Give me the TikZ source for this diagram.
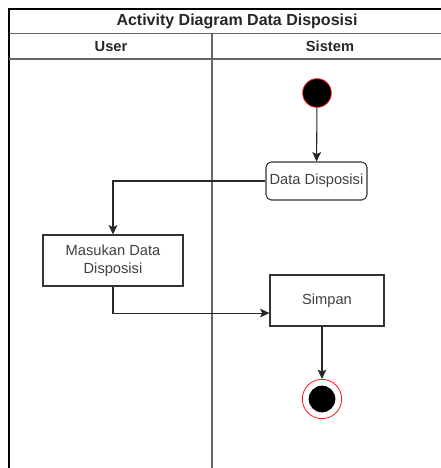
\documentclass[tikz,border=0pt]{standalone}
\usepackage{fontspec}
\setmainfont{Liberation Sans}
\usetikzlibrary{arrows.meta}

\tikzset{
  lane/.style={line width=1pt, draw=black!60},
  lanetext/.style={font=\fontsize{11}{13}\selectfont\bfseries, text=black!85},
  act/.style={draw=black!80, line width=0.8pt, fill=white, align=center, font=\fontsize{11}{13.5}\selectfont, text=black!75, inner sep=1pt},
  flow/.style={line width=0.8pt, draw=black!85, -{Stealth[length=7pt,width=6.5pt,inset=1.5pt]}},
  startdot/.style={circle, fill=black, draw=red!90, line width=0.6pt, minimum size=21.5pt, inner sep=0pt},
  enddot/.style={circle, draw=red!90, line width=0.6pt, fill=white, minimum size=29.5pt, inner sep=0pt,
    path picture={\fill[black] (path picture bounding box.center) circle (10pt);}}
}

\begin{document}
\begin{tikzpicture}[x=0.75pt, y=-0.75pt]
  \useasboundingbox (0,0) rectangle (441,468);

  % swimlane frame
  \draw[lane, draw=black] (9,468) -- (9,9) -- (445,9);
  \draw[lane] (9,33.5) -- (445,33.5);
  \draw[lane] (9,59) -- (445,59);
  \draw[lane] (212,33.5) -- (212,468);
  \node[lanetext, font=\fontsize{12}{14}\selectfont\bfseries] (title) at (237,21) {Activity Diagram Data Disposisi};
  \node[lanetext] (laneuser) at (111,46.5) {User};
  \node[lanetext] (lanesis) at (330,46.5) {Sistem};

  % activities
  \node[startdot] (start) at (317,93) {};
  \node[act, rounded corners=4pt, minimum width=75.75pt, minimum height=28.5pt] (data) at (316.5,181) {Data Disposisi};
  \node[act, minimum width=105pt, minimum height=38.25pt] (masukan) at (113,260.5) {Masukan Data\\Disposisi};
  \node[act, minimum width=85.5pt, minimum height=38.25pt] (simpan) at (327,300.5) {Simpan};
  \node[enddot] (end) at (322,399) {};

  % flows
  \draw[flow] (start) -- (data);
  \draw[flow] (data.west) -| (masukan.north);
  \draw[flow] (masukan.south) |- ([yshift=-9.4pt]simpan.west);
  \draw[flow] (end.north |- simpan.south) -- (end);
\end{tikzpicture}
\end{document}
